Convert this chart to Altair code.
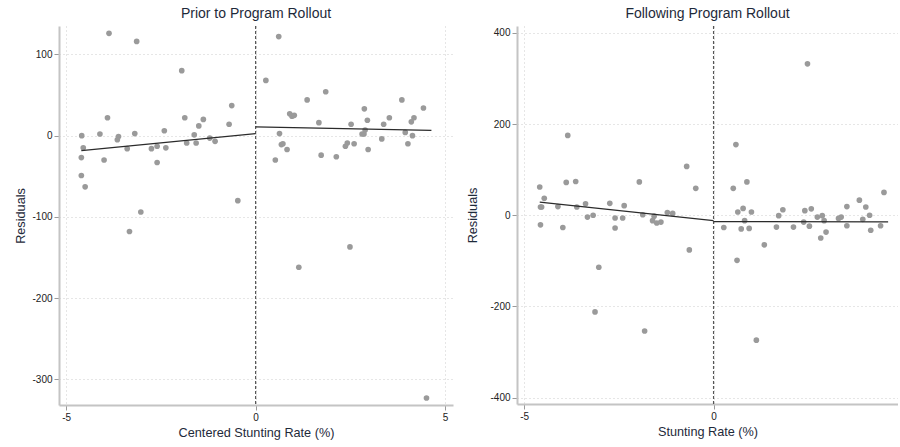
import altair as alt
import pandas as pd

# ---------------- data ----------------
pre_x = [-4.59, -4.55, -4.60, -4.60, -4.50, -3.87, -3.14, -4.11, -4.00, -3.91,
         -3.62, -3.65, -3.39, -3.19, -3.03, -3.33, -2.75, -2.60, -2.60, -2.41,
         -2.37, -1.95, -1.87, -1.82, -1.62, -1.57, -1.50, -1.38, -1.21, -1.07,
         -0.70, -0.63, -0.47,
         0.27, 0.61, 0.52, 0.63, 0.68, 0.72, 0.83, 0.90, 0.96, 1.02,
         1.14, 1.36, 1.67, 1.73, 1.85, 2.13, 2.37, 2.42, 2.52, 2.60,
         2.49, 2.81, 2.86, 2.87, 2.89, 2.95, 2.97, 3.33, 3.38, 3.53,
         3.86, 3.95, 4.02, 4.11, 4.18, 4.14, 4.43, 4.51]
pre_y = [0, -15, -27, -49, -63, 126, 116, 2, -30, 22,
         -1, -5, -16, 2.5, -94, -118, -16, -13, -33, 6,
         -15, 80, 22, -9, 1, -9, 12, 20, -3, -7,
         14, 37, -80,
         68, 122, -30, 2.5, -11, -10, -17, 27, 24, 25,
         -162, 44, 16, -24, 54, -26, -13, -9, 14, -10,
         -137, 2, 2, 33, 7, 19, -17, -4, 14, 22,
         44, 4, -10, 17, 22, 0, 34, -323]

post_x = [-4.59, -4.57, -4.54, -4.47, -3.85, -3.89, -3.64, -4.11, -3.61, -3.38,
          -3.33, -3.18, -2.74, -2.60, -2.40, -2.36, -1.96, -1.87, -1.22, -1.08,
          -0.71, -0.47, -4.57, -3.98, -3.03, -3.13, -2.60, -1.82, -1.61, -1.50,
          -1.39, -1.57, -0.64,
          0.52, 0.59, 0.88, 0.64, 0.78, 1.00, 1.72, 1.83, 2.48, 2.41,
          2.58, 3.52, 3.85, 4.02, 4.50, 4.12, 0.27, 0.62, 0.73, 0.82,
          0.94, 1.34, 1.13, 1.66, 2.11, 2.38, 2.53, 2.74, 2.87, 2.83,
          2.92, 2.97, 3.30, 3.37, 3.52, 3.94, 4.15, 4.41]
post_y = [62, 18, 18, 37, 175, 72, 74, 19, 18, 25,
          -4, 0, 26, -6, -6, 21, 73, 1, 6, 4,
          107, 59, -21, -27, -114, -212, -28, -254, -12, -17,
          -15, -2, -76,
          59, 155, 73, 7, 15, 7, -1, 12, 332, 10,
          14, 19, 33, 18, 50, 0, -27, -99, -30, -12,
          -29, -65, -274, -26, -26, -15, -24, -4, -1, -50,
          -12, -37, -7, -4, -23, -9, -33, -23]

# fitted lines (segment id, x, y)
pre_fit_seg = ["below", "below", "above", "above"]
pre_fit_x = [-4.60, 0.0, 0.0, 4.64]
pre_fit_y = [-18.5, 2.5, 10.7, 6.6]
post_fit_seg = ["below", "below", "above", "above"]
post_fit_x = [-4.59, 0.0, 0.0, 4.61]
post_fit_y = [28.6, -11.7, -14.0, -14.7]

pre_yticks = [-300, -200, -100, 0, 100]
post_yticks = [-400, -200, 0, 200, 400]
pre_xticks = [-5, 0, 5]
post_xticks = [-5, 0]

FONT = "Liberation Sans"
TXT = "#1e2a3a"
PT = "#9a9a9a"
LBL = "datum.value + ''"


def panel(px, py, fx, fy, fseg, title, xtitle, xdom, ydom, xticks, yticks, w, h, ytp):
    pts = pd.DataFrame({"x": px, "y": py})
    fit = pd.DataFrame({"x": fx, "y": fy, "seg": fseg})
    xs = alt.Scale(domain=xdom, nice=False, zero=False)
    ys = alt.Scale(domain=ydom, nice=False, zero=False)
    xax = alt.Axis(values=xticks, title=xtitle, grid=True, gridDash=[1, 3],
                   gridColor="#cccccc", domainColor="#c4c4c4", domainWidth=2,
                   tickColor="#9a9a9a", tickSize=5, labelFontSize=10,
                   labelColor="#222222", titleFontSize=12.7, titleColor=TXT,
                   titleFontWeight="normal", labelPadding=2, titlePadding=4,
                   labelFont=FONT, titleFont=FONT, labelExpr=LBL)
    yax = alt.Axis(values=yticks, title="Residuals", grid=True, gridDash=[1, 3],
                   gridColor="#cccccc", domainColor="#c4c4c4", domainWidth=2,
                   tickColor="#9a9a9a", tickSize=5, labelFontSize=10,
                   labelColor="#222222", titleFontSize=12.7, titleColor=TXT,
                   titleFontWeight="normal", labelPadding=2, titlePadding=ytp,
                   labelFont=FONT, titleFont=FONT, labelExpr=LBL)
    points = alt.Chart(pts).mark_circle(size=32, color=PT, opacity=1).encode(
        x=alt.X("x:Q", scale=xs, axis=xax),
        y=alt.Y("y:Q", scale=ys, axis=yax),
    )
    ref = alt.Chart(pd.DataFrame({"x": [0]})).mark_rule(
        color="#555555", strokeDash=[3, 2], strokeWidth=1.2
    ).encode(x=alt.X("x:Q", scale=xs))
    line = alt.Chart(fit).mark_line(color="#2b2b2b", strokeWidth=1.2).encode(
        x=alt.X("x:Q", scale=xs),
        y=alt.Y("y:Q", scale=ys),
        detail="seg:N",
    )
    return alt.layer(ref, points, line).properties(
        width=w, height=h,
        title=alt.TitleParams(title, fontSize=14, font=FONT, color=TXT,
                              fontWeight="normal", offset=4),
    )


left = panel(pre_x, pre_y, pre_fit_x, pre_fit_y, pre_fit_seg,
             "Prior to Program Rollout", "Centered Stunting Rate (%)",
             [-5.19, 5.21], [-331.6, 135], pre_xticks, pre_yticks, 394, 379, 4)
right = panel(post_x, post_y, post_fit_x, post_fit_y, post_fit_seg,
              "Following Program Rollout", "Stunting Rate (%)",
              [-5.19, 4.87], [-414, 415], post_xticks, post_yticks, 381, 378, 10)

chart = alt.hconcat(left, right, spacing=13).resolve_scale(
    x="independent", y="independent"
).properties(
    padding={"left": 14, "top": 7, "right": 0, "bottom": 6},
    background="white",
).configure_view(stroke=None)

chart.save("out.html", embed_options={"renderer": "svg", "actions": False})
